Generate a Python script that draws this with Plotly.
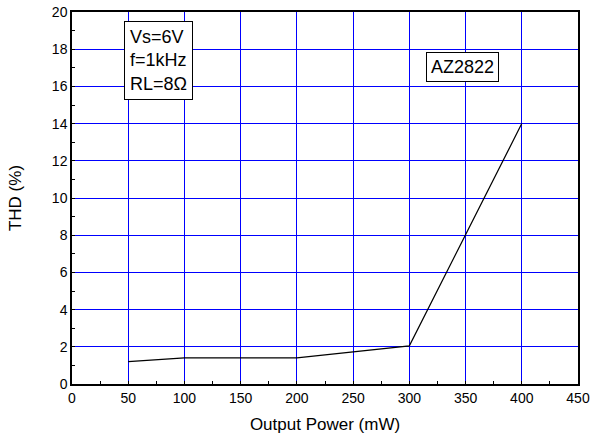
import plotly.graph_objects as go

# THD vs output power
power_mw = [50, 100, 200, 300, 400]
thd_pct = [1.2, 1.4, 1.4, 2.05, 14.0]

x_ticks = [0, 50, 100, 150, 200, 250, 300, 350, 400, 450]
y_ticks = [0, 2, 4, 6, 8, 10, 12, 14, 16, 18, 20]

font_family = "Liberation Sans, Arial, sans-serif"

fig = go.Figure()
fig.add_trace(go.Scatter(
    x=power_mw, y=thd_pct, mode="lines",
    line=dict(color="black", width=1.2),
    showlegend=False,
))

axis_common = dict(
    showline=True, linecolor="black", linewidth=1.5, mirror=True,
    ticks="inside", ticklen=3, tickcolor="black",
    showgrid=True, gridcolor="#0000ff", gridwidth=1,
    zeroline=False, automargin=False,
    tickfont=dict(family=font_family, size=14, color="black"),
)

fig.update_xaxes(
    range=[0, 450], tickvals=x_ticks,
    minor=dict(dtick=25, ticks="inside", ticklen=3, tickcolor="black", showgrid=False),
    title=dict(text="Output Power (mW)", font=dict(family=font_family, size=17, color="black"), standoff=14),
    **axis_common,
)
fig.update_yaxes(
    range=[0, 20], tickvals=y_ticks,
    minor=dict(dtick=1, ticks="inside", ticklen=3, tickcolor="black", showgrid=False),
    title=dict(text="THD (%)", font=dict(family=font_family, size=17, color="black"), standoff=26),
    **axis_common,
)

fig.add_annotation(
    xref="paper", yref="paper", x=0.103, y=0.975, xanchor="left", yanchor="top",
    text="Vs=6V<br>f=1kHz<br>RL=8Ω", align="left", showarrow=False,
    font=dict(family=font_family, size=18, color="black"),
    bgcolor="white", bordercolor="black", borderwidth=1, borderpad=5,
)
fig.add_annotation(
    xref="paper", yref="paper", x=0.771, y=0.853, xanchor="center", yanchor="middle",
    text="AZ2822", showarrow=False,
    font=dict(family=font_family, size=18, color="black"),
    bgcolor="white", bordercolor="black", borderwidth=1, borderpad=4,
)

fig.update_layout(
    width=591, height=441,
    margin=dict(l=72, r=13, t=12, b=57),
    plot_bgcolor="white", paper_bgcolor="white",
)

fig.write_html("out.html")
